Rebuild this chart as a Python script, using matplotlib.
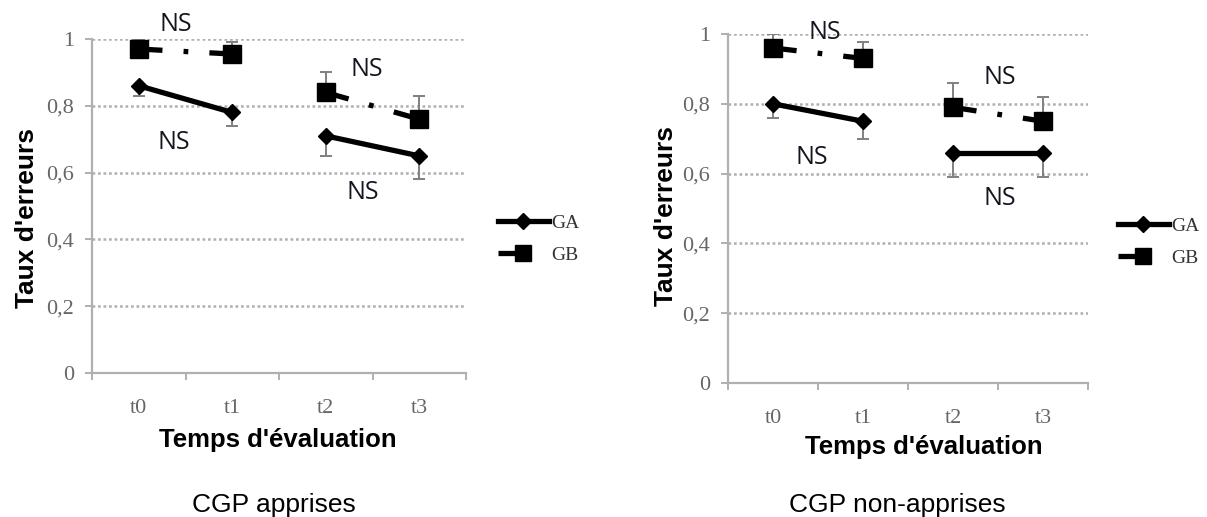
import matplotlib
matplotlib.use("Agg")
import matplotlib.pyplot as plt
from matplotlib.lines import Line2D
import numpy as np

# ---------------- data ----------------
times = ["t0", "t1", "t2", "t3"]
series_names = ["GA", "GB"]

# CGP apprises
appr_GA = [0.86, 0.78, 0.71, 0.65]
appr_GA_err_low = [0.03, 0.04, 0.06, 0.07]
appr_GB = [0.97, 0.955, 0.84, 0.76]
appr_GB_err_high = [0.03, 0.035, 0.06, 0.07]

# CGP non-apprises
nonappr_GA = [0.80, 0.75, 0.66, 0.66]
nonappr_GA_err_low = [0.04, 0.05, 0.07, 0.07]
nonappr_GB = [0.96, 0.93, 0.79, 0.75]
nonappr_GB_err_high = [0.04, 0.047, 0.07, 0.07]

ns_label = "NS"
panel_titles = ["CGP apprises", "CGP non-apprises"]
ylabel = "Taux d'erreurs"
xlabel = "Temps d'évaluation"
yticks = [0, 0.2, 0.4, 0.6, 0.8, 1.0]
ytick_labels = ["0", "0,2", "0,4", "0,6", "0,8", "1"]

# ---------------- style ----------------
W, H = 1207, 517
fig = plt.figure(figsize=(W / 100, H / 100), dpi=100)
fig.patch.set_facecolor("white")

GRAY_AX = "#b0b0b0"
TICK_COL = "#666666"
ERR_COL = "#808080"
serif = ["Liberation Serif", "DejaVu Serif"]
sans = ["Liberation Sans", "DejaVu Sans"]
ns_font = ["Open Sans", "DejaVu Sans"]

LW = 3.8
gb_dash = (0, (4.5, 4.0, 0.9, 4.0))

panels = [
    dict(rect=[92 / W, (H - 373) / H, 374 / W, 334 / H],
         GA=appr_GA, GAe=appr_GA_err_low, GB=appr_GB, GBe=appr_GB_err_high,
         ns_pos=[(0.40, 1.042), (0.38, 0.69), (2.44, 0.91), (2.40, 0.54)],
         ylab=(-0.143, 0.464), xlab=(0.497, -0.166),
         leg=(498 / W, 1 - 214 / H), title=(274 / W, 1 - 505 / H)),
    dict(rect=[728 / W, (H - 383) / H, 360 / W, 349 / H],
         GA=nonappr_GA, GAe=nonappr_GA_err_low, GB=nonappr_GB, GBe=nonappr_GB_err_high,
         ns_pos=[(0.58, 1.003), (0.43, 0.645), (2.52, 0.874), (2.52, 0.53)],
         ylab=(-0.138, 0.478), xlab=(0.544, -0.150),
         leg=(1118 / W, 1 - 217 / H), title=(897 / W, 1 - 505 / H)),
]

x = np.arange(len(times))

for i, p in enumerate(panels):
    ax = fig.add_axes(p["rect"])
    ax.set_xlim(-0.5, len(times) - 0.5)
    ax.set_ylim(0, 1)

    # grid
    for yv in yticks[1:]:
        ax.axhline(yv, color="#b0b0b0", lw=1.8, ls=(0, (1.1, 1.1)), zorder=0)

    for sp in ["top", "right"]:
        ax.spines[sp].set_visible(False)
    for sp in ["left", "bottom"]:
        ax.spines[sp].set_color(GRAY_AX)
        ax.spines[sp].set_linewidth(1.6)

    ax.set_yticks(yticks)
    ax.set_yticklabels(ytick_labels, fontfamily=serif, fontsize=16, color=TICK_COL)
    ax.tick_params(axis="y", length=5, width=1.4, color=GRAY_AX, pad=8)

    ax.set_xticks(x)
    ax.set_xticklabels(times, fontfamily=serif, fontsize=16, color=TICK_COL)
    ax.tick_params(axis="x", which="major", length=0, pad=19)
    ax.set_xticks(np.arange(-0.5, len(times), 1.0), minor=True)
    ax.tick_params(axis="x", which="minor", length=5, width=1.4, color=GRAY_AX)

    ga, gae, gb, gbe = p["GA"], p["GAe"], p["GB"], p["GBe"]
    for seg in [(0, 2), (2, 4)]:
        s = slice(*seg)
        xs = x[s]
        # error bars (one-sided, as in the original)
        ax.errorbar(xs, ga[s], yerr=[gae[s], [0] * len(xs)], fmt="none",
                    ecolor=ERR_COL, elinewidth=1.4, capsize=4.5, capthick=1.4, zorder=2)
        ax.errorbar(xs, gb[s], yerr=[[0] * len(xs), gbe[s]], fmt="none",
                    ecolor=ERR_COL, elinewidth=1.4, capsize=4.5, capthick=1.4, zorder=2)
        ax.plot(xs, ga[s], color="black", lw=LW, marker="D", ms=8,
                solid_capstyle="butt", zorder=3)
        ax.plot(xs, gb[s], color="black", lw=LW, marker="s", ms=13,
                ls=gb_dash, dash_capstyle="butt", zorder=3)

    for (nx, ny) in p["ns_pos"]:
        ax.text(nx, ny, ns_label, ha="center", va="center", fontsize=18,
                fontfamily=ns_font, color="#151520", clip_on=False)

    ax.set_ylabel(ylabel, fontfamily=sans, fontsize=19, fontweight="bold")
    ax.yaxis.set_label_coords(*p["ylab"])
    ax.set_xlabel(xlabel, fontfamily=sans, fontsize=18.5, fontweight="bold")
    ax.xaxis.set_label_coords(*p["xlab"])

    # legend proxies (Excel-style legend keys)
    h_ga = Line2D([], [], color="black", lw=LW, marker="D", ms=8)
    h_gb = Line2D([], [], color="black", lw=LW, marker="s", ms=11,
                  ls=(0, (5.6, 20)), dash_capstyle="butt")
    fig.legend(handles=[h_ga, h_gb], labels=series_names, loc="upper left",
               bbox_to_anchor=p["leg"], bbox_transform=fig.transFigure,
               frameon=False, borderpad=0, borderaxespad=0,
               handlelength=2.6, handletextpad=0.15, labelspacing=0.75,
               numpoints=1, prop={"family": serif, "size": 14},
               labelcolor="#333333")

    fig.text(p["title"][0], p["title"][1], panel_titles[i],
             ha="center", va="center", fontfamily=sans, fontsize=19)

fig.savefig("out.png", dpi=100, facecolor="white")
